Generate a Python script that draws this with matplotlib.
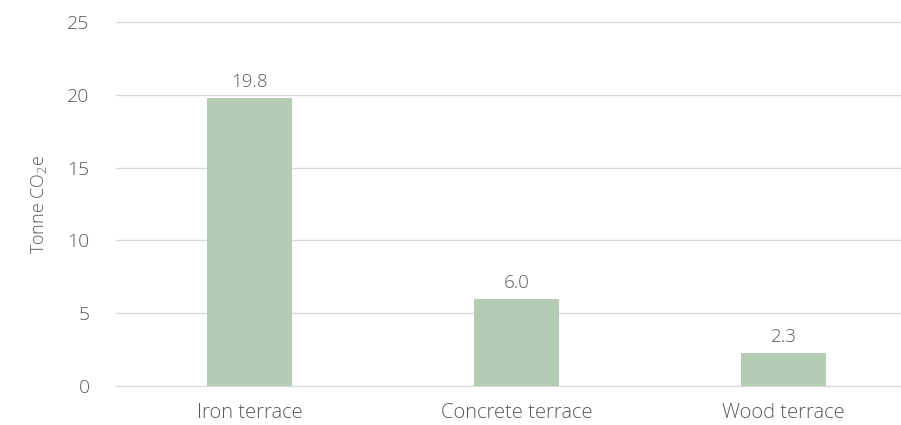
import matplotlib
matplotlib.use("Agg")
import matplotlib.pyplot as plt

categories = ["Iron terrace", "Concrete terrace", "Wood terrace"]
values = [19.8, 6.0, 2.3]
value_labels = ["19.8", "6.0", "2.3"]
y_ticks = [0, 5, 10, 15, 20, 25]

text_color = "#595959"
bar_color = "#B5CCB4"
grid_color = "#D9D9D9"

plt.rcParams["font.family"] = ["Open Sans", "DejaVu Sans"]
plt.rcParams["font.weight"] = "light"
plt.rcParams["mathtext.fontset"] = "custom"
plt.rcParams["mathtext.rm"] = "Open Sans:light"
plt.rcParams["mathtext.it"] = "Open Sans:light"

fig = plt.figure(figsize=(9.01, 4.25), dpi=100)
ax = fig.add_axes([116 / 901, 39 / 425, 801 / 901, 364 / 425])

x = list(range(len(categories)))
ax.bar(x, values, width=0.32, color=bar_color, zorder=2)

for xi, v, lab in zip(x, values, value_labels):
    ax.annotate(lab, (xi, v), xytext=(0, 5), textcoords="offset points",
                ha="center", va="bottom", fontsize=13.5, color=text_color,
                fontweight="light")

ax.set_xlim(-0.5, 2.5)
ax.set_ylim(0, 25)
ax.set_yticks(y_ticks)
ax.set_xticks(x)
ax.set_xticklabels(categories, fontweight="light", fontsize=14.5)
for t in ax.get_yticklabels():
    t.set_fontweight("light")
    t.set_fontsize(14)
ax.yaxis.grid(True, color=grid_color, linewidth=1, zorder=0)
ax.set_axisbelow(True)
for side in ["top", "right", "left"]:
    ax.spines[side].set_visible(False)
ax.spines["bottom"].set_color(grid_color)
ax.tick_params(axis="both", length=0, labelcolor=text_color)
ax.tick_params(axis="y", pad=19)
ax.tick_params(axis="x", pad=12)
ax.set_ylabel("Tonne CO$_2$e", fontsize=13, color=text_color, labelpad=13,
              fontweight="light")

fig.savefig("out.png", dpi=100)
